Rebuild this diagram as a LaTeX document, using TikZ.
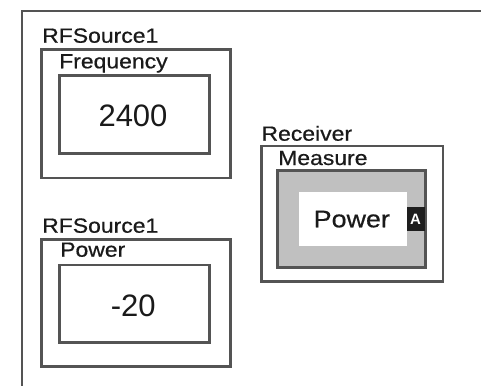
\documentclass[tikz,border=0pt]{standalone}
\usepackage{fontspec}
\setmainfont{Liberation Sans}
\newfontfamily\labfont[FakeStretch=1.12,FakeBold=0.6]{Liberation Sans}
\newfontfamily\valfont{Liberation Sans}
\definecolor{linegrey}{HTML}{545454}
\definecolor{fillgrey}{HTML}{C0C0C0}
\definecolor{tagblack}{HTML}{1E1E1E}
\definecolor{textdark}{HTML}{1A1A1A}
\begin{document}
\begin{tikzpicture}[x=1pt,y=-1pt,
  frame/.style={draw=linegrey,line width=2.7pt},
  lab/.style={anchor=base west,inner sep=0pt,text=textdark,font=\labfont\fontsize{20.5}{24}\selectfont},
  val/.style={anchor=base,inner sep=0pt,text=textdark,font=\valfont\fontsize{31}{36}\selectfont},
]
\useasboundingbox (0,0) rectangle (481,385);
\fill[white] (0,0) rectangle (481,385);
% outer frame (cut off at right and bottom)
\draw[frame] (22,390) coordinate (fbl) -- (22,11) coordinate (ftl) -- (490,11) coordinate (ftr);

% Frequency group
\node[lab] (rf1) at (42,42.7) {RFSource1};
\draw[frame] (41.7,49.8) rectangle (230.7,178);
\node[lab] (freq) at (59,68.3) {Frequency};
\draw[frame] (59.7,75.7) rectangle (209.3,153.7);
\node[val] (v2400) at (133,126.7) {2400};

% Power group
\node[lab] (rf2) at (42,232.7) {RFSource1};
\draw[frame] (41.7,239.3) rectangle (230.7,366.3);
\node[lab] (pow) at (60,256.7) {Power};
\draw[frame] (59.7,265) rectangle (209.3,342.3);
\node[val] (vm20) at (133.3,316.7) {-20};

% Receiver group
\node[lab] (recv) at (261.3,140.7) {Receiver};
\draw[frame] (261.7,146) rectangle (443,281.7);
\node[lab] (meas) at (278,165) {Measure};
\draw[draw=linegrey,line width=3pt,fill=fillgrey] (277.7,170) rectangle (425.7,267.3);
\fill[white] (299.3,191.7) rectangle (406.7,245.7);
\node[anchor=base west,inner sep=0pt,text=textdark,font=\labfont\fontsize{24}{28}\selectfont] (mpow) at (313.5,227.3) {Power};
\fill[tagblack] (406.7,207.3) rectangle (424.5,230.7);
\node[anchor=base,inner sep=0pt,text=white,font=\bfseries\fontsize{15}{18}\selectfont] (tag) at (415.6,224) {A};
\end{tikzpicture}
\end{document}
